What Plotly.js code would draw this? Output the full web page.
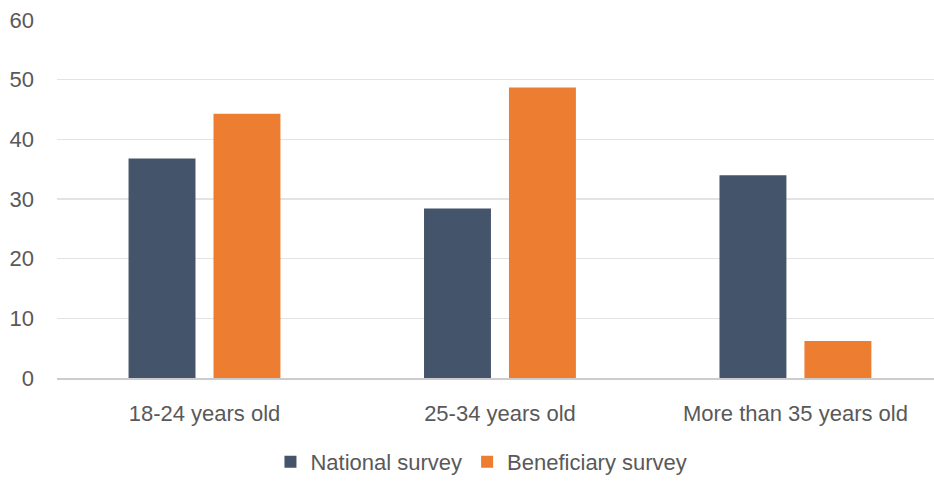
<!DOCTYPE html>
<html>
<head>
<meta charset="utf-8">
<script src="https://cdn.plot.ly/plotly-3.0.1.min.js"></script>
<style>
  html, body { margin: 0; padding: 0; background: #ffffff; }
  #chart { width: 934px; height: 483px; }
</style>
</head>
<body>
<div id="chart"></div>
<script>
// Age groups of respondents, share (%) in each survey
const ageGroups = ['18-24 years old', '25-34 years old', 'More than 35 years old'];
const nationalSurvey = [36.8, 28.4, 34.0];
const beneficiarySurvey = [44.3, 48.7, 6.2];
const yTicks = [0, 10, 20, 30, 40, 50, 60];

const labelFont = { family: 'Liberation Sans, Arial, sans-serif', size: 22, color: '#595959' };

const traces = [
  {
    type: 'bar',
    name: 'National survey',
    x: ageGroups,
    y: nationalSurvey,
    marker: { color: '#44546A' },
    hoverinfo: 'x+y+name'
  },
  {
    type: 'bar',
    name: 'Beneficiary survey',
    x: ageGroups,
    y: beneficiarySurvey,
    marker: { color: '#ED7D31' },
    hoverinfo: 'x+y+name'
  }
];

const layout = {
  width: 934,
  height: 483,
  margin: { l: 57, r: 0, t: 20, b: 101 },
  paper_bgcolor: '#ffffff',
  plot_bgcolor: '#ffffff',
  barmode: 'group',
  bargap: 0.425,
  bargroupgap: 0.212,
  font: labelFont,
  showlegend: true,
  legend: {
    orientation: 'h',
    x: 0.484,
    xanchor: 'center',
    y: -0.235,
    yanchor: 'middle',
    font: labelFont,
    itemwidth: 30
  },
  xaxis: {
    type: 'category',
    range: [-0.4992, 2.469],
    showgrid: false,
    showline: true,
    linecolor: '#cccccc',
    linewidth: 1.5,
    ticks: '',
    ticklabelstandoff: 15,
    tickfont: labelFont,
    fixedrange: true
  },
  yaxis: {
    range: [0, 60],
    tickvals: yTicks,
    ticktext: yTicks.map(String),
    showgrid: true,
    gridcolor: '#e3e3e3',
    gridwidth: 1.5,
    zeroline: false,
    showline: false,
    ticks: '',
    ticklabelstandoff: 22,
    tickfont: labelFont,
    fixedrange: true
  }
};

Plotly.newPlot('chart', traces, layout, { displayModeBar: false, staticPlot: true });
</script>
</body>
</html>
